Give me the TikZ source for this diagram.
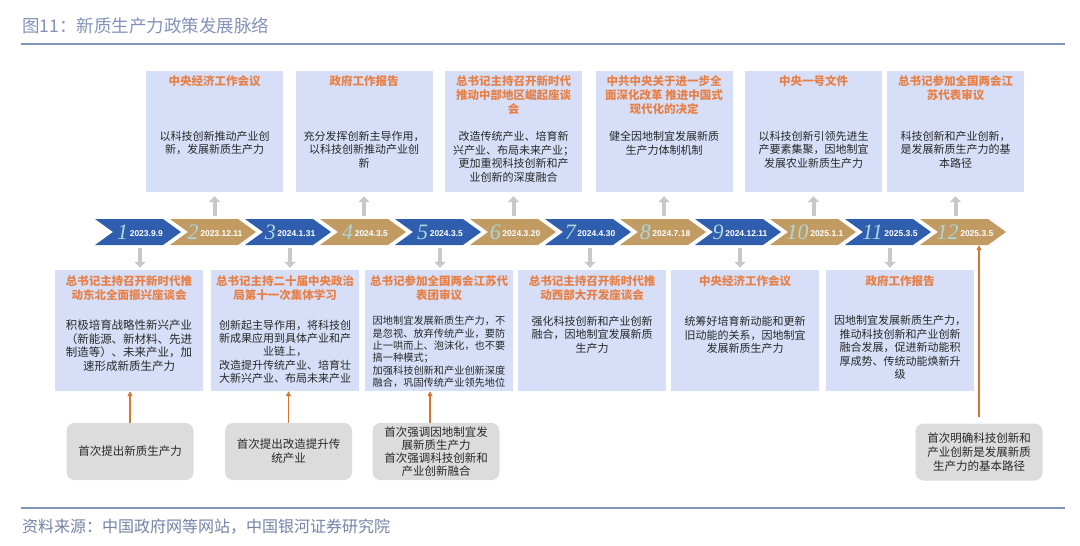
\documentclass[tikz,border=0pt]{standalone}
\usepackage{fontspec}
\setmainfont{Noto Sans CJK SC}
\newfontfamily\numfont{Liberation Serif}
\newfontfamily\datefont{Liberation Sans}
\usetikzlibrary{arrows.meta}
\definecolor{boxbg}{RGB}{214,223,247}
\definecolor{ttl}{RGB}{232,128,70}
\definecolor{cblue}{RGB}{48,94,174}
\definecolor{ctan}{RGB}{193,155,98}
\definecolor{numc}{RGB}{170,215,220}
\definecolor{stubc}{RGB}{200,200,200}
\definecolor{greybg}{RGB}{220,220,220}
\definecolor{orng}{RGB}{214,118,46}
\definecolor{hdr}{RGB}{130,146,185}
\definecolor{txt}{RGB}{40,40,40}
\tikzset{
 tbox/.style={fill=boxbg, minimum width=137pt, minimum height=121pt, inner sep=0pt},
 bbox/.style={fill=boxbg, minimum width=148pt, minimum height=121pt, inner sep=0pt},
 hd/.style={text=ttl, font=\bfseries\fontsize{11.5}{14}\selectfont, align=center, anchor=north, inner sep=0pt},
 bd/.style={text=txt, font=\fontsize{11}{13.5}\selectfont, align=center, anchor=north, inner sep=0pt},
 gbox/.style={fill=greybg, rounded corners=8pt, minimum width=127pt, minimum height=57pt, text=txt, font=\fontsize{11.5}{14}\selectfont, align=center, inner sep=0pt},
 stubarr/.style={draw=stubc, line width=4pt, -{Triangle[width=11pt,length=6pt]}},
 orarr/.style={draw=orng, line width=1.5pt, -{Triangle[width=5pt,length=5pt]}},
 chl/.style={minimum height=26pt, inner sep=0pt}
}
\begin{document}
\begin{tikzpicture}[x=1pt,y=-1pt]
\useasboundingbox (0,0) rectangle (1080,546);
% header and footer
\node[anchor=west, inner sep=0pt, text=hdr, font=\fontsize{17.5}{20}\selectfont] (title) at (22,26) {图11：新质生产力政策发展脉络};
\draw[hdr, line width=2pt] (21,44) -- (1065,44);
\draw[hdr, line width=2pt] (21,508) -- (1065,508);
\node[anchor=west, inner sep=0pt, text=hdr!90!black, font=\fontsize{16}{18}\selectfont] (src) at (22,527) {资料来源：中国政府网等网站，中国银河证券研究院};

% chevrons
\foreach \i/\c/\d in {1/cblue/2023.9.9, 2/ctan/2023.12.11, 3/cblue/2024.1.31, 4/ctan/2024.3.5, 5/cblue/2024.3.5, 6/ctan/2024.3.20, 7/cblue/2024.4.30, 8/ctan/2024.7.18, 9/cblue/2024.12.11, 10/ctan/2025.1.1, 11/cblue/2025.3.5, 12/ctan/2025.3.5} {
  \pgfmathsetmacro\b{95+75*(\i-1)}
  \fill[\c] (\b,219) -- ++(68,0) -- ++(18,13) -- ++(-18,13) -- ++(-68,0) -- ++(18,-13) -- cycle;
  \node[chl] (ch\i) at (\b+45,232) {{\numfont\itshape\fontsize{22}{22}\selectfont\color{numc}\i}\,\raisebox{3pt}{\datefont\bfseries\fontsize{8.5}{10}\selectfont\color{white}\d}};
}

% top boxes
\node[tbox] (t1) at (214.5,131.5) {};
\node[tbox] (t2) at (364,131.5) {};
\node[tbox] (t3) at (513.5,131.5) {};
\node[tbox] (t4) at (664,131.5) {};
\node[tbox] (t5) at (813.5,131.5) {};
\node[tbox] (t6) at (955.5,131.5) {};
\node[hd] (t1h) at (214.5,75) {中央经济工作会议};
\node[bd] (t1b) at (214.5,131) {以科技创新推动产业创\\新，发展新质生产力};
\node[hd] (t2h) at (364,75) {政府工作报告};
\node[bd] (t2b) at (364,131) {充分发挥创新主导作用，\\以科技创新推动产业创\\新};
\node[hd] (t3h) at (513.5,75) {总书记主持召开新时代\\推动中部地区崛起座谈\\会};
\node[bd] (t3b) at (513.5,131) {改造传统产业、培育新\\兴产业、布局未来产业；\\更加重视科技创新和产\\业创新的深度融合};
\node[hd] (t4h) at (664,75) {中共中央关于进一步全\\面深化改革 推进中国式\\现代化的决定};
\node[bd] (t4b) at (664,131) {健全因地制宜发展新质\\生产力体制机制};
\node[hd] (t5h) at (813.5,75) {中央一号文件};
\node[bd] (t5b) at (813.5,131) {以科技创新引领先进生\\产要素集聚，因地制宜\\发展农业新质生产力};
\node[hd] (t6h) at (955.5,75) {总书记参加全国两会江\\苏代表审议};
\node[bd] (t6b) at (955.5,131) {科技创新和产业创新，\\是发展新质生产力的基\\本路径};

% bottom boxes
\node[bbox] (b1) at (129,330.5) {};
\node[bbox] (b2) at (285,330.5) {};
\node[bbox] (b3) at (439,330.5) {};
\node[bbox] (b4) at (592,330.5) {};
\node[bbox] (b5) at (745,330.5) {};
\node[bbox] (b6) at (900,330.5) {};
\node[hd] (b1h) at (129,275) {总书记主持召开新时代推\\动东北全面振兴座谈会};
\node[bd, font=\fontsize{11.5}{13.5}\selectfont] (b1b) at (129,320) {积极培育战略性新兴产业\\（新能源、新材料、先进\\制造等）、未来产业，加\\速形成新质生产力};
\node[hd] (b2h) at (285,275) {总书记主持二十届中央政治\\局第十一次集体学习};
\node[bd, font=\fontsize{11}{13.2}\selectfont] (b2b) at (285,320) {创新起主导作用，将科技创\\新成果应用到具体产业和产\\业链上，\\改造提升传统产业、培育壮\\大新兴产业、布局未来产业};
\node[hd] (b3h) at (439,275) {总书记参加全国两会江苏代\\表团审议};
\node[bd, align=left, font=\fontsize{10.2}{12.3}\selectfont] (b3b) at (439,316) {因地制宜发展新质生产力，不\\是忽视、放弃传统产业，要防\\止一哄而上、泡沫化，也不要\\搞一种模式；\\加强科技创新和产业创新深度\\融合，巩固传统产业领先地位};
\node[hd] (b4h) at (592,275) {总书记主持召开新时代推\\动西部大开发座谈会};
\node[bd] (b4b) at (592,316) {强化科技创新和产业创新\\融合，因地制宜发展新质\\生产力};
\node[hd] (b5h) at (745,275) {中央经济工作会议};
\node[bd] (b5b) at (745,316) {统筹好培育新动能和更新\\旧动能的关系，因地制宜\\发展新质生产力};
\node[hd] (b6h) at (900,275) {政府工作报告};
\node[bd] (b6b) at (900,315.5) {因地制宜发展新质生产力，\\推动科技创新和产业创新\\融合发展，促进新动能积\\厚成势、传统动能焕新升\\级};

% grey boxes
\node[gbox] (g1) at (130,451.5) {首次提出新质生产力};
\node[gbox] (g2) at (288.5,451.5) {首次提出改造提升传\\统产业};
\node[gbox, font=\fontsize{11.5}{13.2}\selectfont] (g3) at (436,451.5) {首次强调因地制宜发\\展新质生产力\\首次强调科技创新和\\产业创新融合};
\node[gbox] (g4) at (979,452) {首次明确科技创新和\\产业创新是发展新质\\生产力的基本路径};

% stubs top
\draw[stubarr, shorten <=3pt, shorten >=4pt] (t1.south |- ch2.north) -- (t1.south);
\draw[stubarr, shorten <=3pt, shorten >=4pt] (t2.south |- ch4.north) -- (t2.south);
\draw[stubarr, shorten <=3pt, shorten >=4pt] (t3.south |- ch6.north) -- (t3.south);
\draw[stubarr, shorten <=3pt, shorten >=4pt] (t4.south |- ch8.north) -- (t4.south);
\draw[stubarr, shorten <=3pt, shorten >=4pt] (t5.south |- ch10.north) -- (t5.south);
\draw[stubarr, shorten <=3pt, shorten >=4pt] (t6.south |- ch12.north) -- (t6.south);
% stubs bottom
\draw[stubarr, shorten <=3pt, shorten >=2pt] (ch1.south) -- (ch1.south |- b1.north);
\draw[stubarr, shorten <=3pt, shorten >=2pt] (ch3.south) -- (ch3.south |- b2.north);
\draw[stubarr, shorten <=3pt, shorten >=2pt] (ch5.south) -- (ch5.south |- b3.north);
\draw[stubarr, shorten <=3pt, shorten >=2pt] (ch7.south) -- (ch7.south |- b4.north);
\draw[stubarr, shorten <=3pt, shorten >=2pt] (ch9.south) -- (ch9.south |- b5.north);
\draw[stubarr, shorten <=3pt, shorten >=2pt] (ch11.south) -- (ch11.south |- b6.north);

% orange arrows
\draw[orarr] (g1.north) -- (g1.north |- b1.south);
\draw[orarr] (g2.north) -- (g2.north |- b2.south);
\draw[orarr] ([xshift=-6pt]g3.north) -- ([xshift=-6pt]g3.north |- b3.south);
\draw[orarr, shorten <=6pt] (g4.north) -- (g4.north |- ch12.south);
\end{tikzpicture}
\end{document}
